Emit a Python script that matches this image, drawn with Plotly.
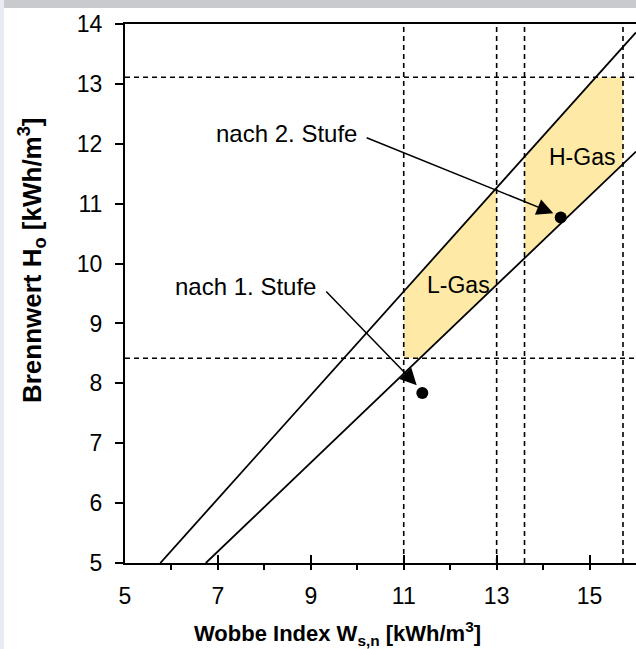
import plotly.graph_objects as go

# ---- data ----
upper_W = [5.76, 16.0]          # line H = W*sqrt(0.75)
upper_H = [5.0, 13.86]
lower_W = [6.74, 16.0]          # line H = W*sqrt(0.55)
lower_H = [5.0, 11.87]

lgas_W = [11.0, 11.0, 13.0, 13.0, 11.33, 11.0]
lgas_H = [8.42, 9.52, 11.26, 9.64, 8.42, 8.42]
hgas_W = [13.6, 13.6, 15.12, 15.72, 15.72, 13.6]
hgas_H = [10.10, 11.79, 13.11, 13.11, 11.64, 10.10]

vlines_W = [11.0, 13.0, 13.6, 15.72]
hlines_H = [13.11, 8.42]

points_W = [11.40, 14.38]
points_H = [7.84, 10.77]

labels = ["nach 1. Stufe", "nach 2. Stufe"]
label_W = [7.59, 8.48]
label_H = [9.61, 12.18]
arrow_tail_W = [9.30, 10.17]
arrow_tail_H = [9.56, 12.11]
arrow_head_W = [11.28, 14.22]
arrow_head_H = [7.97, 10.84]

region_names = ["L-Gas", "H-Gas"]
region_W = [12.17, 14.84]
region_H = [9.64, 11.78]

x_ticks = [5, 7, 9, 11, 13, 15]
y_ticks = [5, 6, 7, 8, 9, 10, 11, 12, 13, 14]

x_title = "<b>Wobbe Index W<sub>s,n</sub> [kWh/m<sup>3</sup>]</b>"
y_title = "<b>Brennwert H<sub>o</sub> [kWh/m<sup>3</sup>]</b>"

FONT = "Liberation Sans Narrow, Arial Narrow, Liberation Sans, Arial, sans-serif"
YELLOW = "#FFE9A6"

fig = go.Figure()

for W, H in [(lgas_W, lgas_H), (hgas_W, hgas_H)]:
    fig.add_trace(go.Scatter(x=W, y=H, mode="lines", fill="toself",
                             fillcolor=YELLOW, line=dict(width=0, color=YELLOW),
                             hoverinfo="skip", showlegend=False))

for w in vlines_W:
    fig.add_trace(go.Scatter(x=[w, w], y=[5, 14], mode="lines",
                             line=dict(color="black", width=1.6, dash="5px,4px"),
                             showlegend=False, hoverinfo="skip"))
for h in hlines_H:
    fig.add_trace(go.Scatter(x=[5, 16], y=[h, h], mode="lines",
                             line=dict(color="black", width=1.6, dash="5px,4px"),
                             showlegend=False, hoverinfo="skip"))

for W, H in [(upper_W, upper_H), (lower_W, lower_H)]:
    fig.add_trace(go.Scatter(x=W, y=H, mode="lines",
                             line=dict(color="black", width=1.8),
                             showlegend=False, hoverinfo="skip"))

fig.add_trace(go.Scatter(x=points_W, y=points_H, mode="markers",
                         marker=dict(color="black", size=12),
                         showlegend=False))

annotations = []
for t, x, y in zip(labels, label_W, label_H):
    annotations.append(dict(x=x, y=y, xref="x", yref="y", text=t, showarrow=False,
                            font=dict(family=FONT, size=24, color="black")))
for t, x, y in zip(region_names, region_W, region_H):
    annotations.append(dict(x=x, y=y, xref="x", yref="y", text=t, showarrow=False,
                            font=dict(family=FONT, size=23, color="black")))
for tx, ty, hx, hy in zip(arrow_tail_W, arrow_tail_H, arrow_head_W, arrow_head_H):
    annotations.append(dict(x=hx, y=hy, ax=tx, ay=ty, xref="x", yref="y",
                            axref="x", ayref="y", text="", showarrow=True,
                            arrowhead=2, arrowsize=2.2, arrowwidth=1.5,
                            arrowcolor="black", standoff=0, startstandoff=0))
# axis titles (placed as in the reference, not centred on the plot area)
annotations.append(dict(x=0.416, y=-0.131, xref="paper", yref="paper",
                        text=x_title, showarrow=False, xanchor="center", yanchor="middle",
                        font=dict(family=FONT, size=22, color="black")))
annotations.append(dict(x=-0.182, y=0.562, xref="paper", yref="paper",
                        text=y_title, showarrow=False, textangle=-90,
                        xanchor="center", yanchor="middle",
                        font=dict(family=FONT, size=26, color="black")))

fig.update_layout(
    width=636, height=649,
    margin=dict(l=125, r=0, t=24, b=86),
    paper_bgcolor="white", plot_bgcolor="white",
    annotations=annotations,
    shapes=[
        dict(type="rect", xref="paper", yref="paper",
             x0=-125/511, x1=1, y0=1 + 16/539, y1=1 + 24/539,
             fillcolor="#C8CACD", line=dict(width=0), layer="below"),
        dict(type="rect", xref="paper", yref="paper",
             x0=-125/511, x1=-121/511, y0=-86/539, y1=1 + 24/539,
             fillcolor="#E8ECF2", line=dict(width=0), layer="below"),
    ],
    xaxis=dict(range=[5, 16], tickvals=x_ticks, showgrid=False, zeroline=False,
               showline=True, linecolor="black", linewidth=2, mirror=True,
               ticks="inside", ticklen=8, tickwidth=2, tickcolor="black",
               minor=dict(dtick=1, ticks="outside", ticklen=5, tickwidth=1.5,
                          tickcolor="black", showgrid=False),
               ticklabelstandoff=11, automargin=False,
               tickfont=dict(family=FONT, size=23, color="black")),
    xaxis2=dict(range=[5, 16], tickvals=x_ticks, overlaying="x", anchor="y",
                side="bottom", showgrid=False, zeroline=False, showline=False,
                ticks="outside", ticklen=5, tickwidth=2, tickcolor="black",
                showticklabels=False, automargin=False),
    yaxis=dict(range=[5, 14], tickvals=y_ticks, showgrid=False, zeroline=False,
               showline=True, linecolor="black", linewidth=2,
               ticks="outside", ticklen=8, tickwidth=2, tickcolor="black",
               ticklabelstandoff=8, automargin=False,
               tickfont=dict(family=FONT, size=23, color="black")),
)

fig.write_html("out.html", config={"displayModeBar": False},
               post_script="document.body.style.margin='0';")
